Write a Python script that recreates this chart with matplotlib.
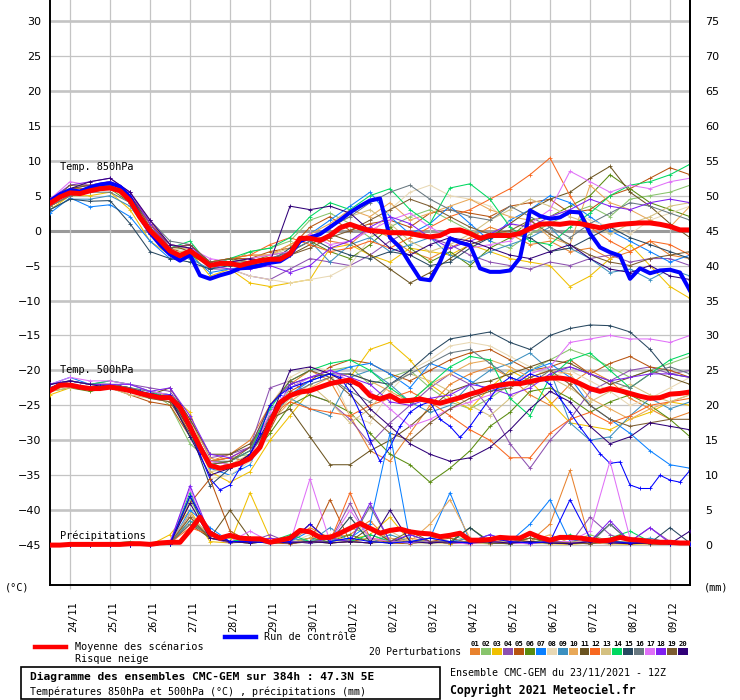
import matplotlib
matplotlib.use("Agg")
import matplotlib.pyplot as plt
import matplotlib.transforms as mtransforms
from matplotlib.lines import Line2D
from matplotlib.patches import Rectangle

# ---------------- data ----------------
HOURS_6 = list(range(0, 385, 6))
HOURS_12 = list(range(0, 385, 12))
DATE_LABELS = ['24/11', '25/11', '26/11', '27/11', '28/11', '29/11', '30/11', '01/12',
               '02/12', '03/12', '04/12', '05/12', '06/12', '07/12', '08/12', '09/12']
DATE_HOURS = [12 + 24 * k for k in range(len(DATE_LABELS))]

MEMBER_NAMES = ['01', '02', '03', '04', '05', '06', '07', '08', '09', '10',
                '11', '12', '13', '14', '15', '16', '17', '18', '19', '20']
MEMBER_COLORS = ['#e8822e', '#88c46c', '#f0c000', '#8c50b0', '#b85410', '#5a8c10', '#0a80ff',
                 '#e8d8b4', '#3c90c0', '#e8a858', '#6b5420', '#f86820', '#d4c080', '#00d860',
                 '#284860', '#687880', '#e070f8', '#8020f0', '#7c5c30', '#300078']

mean850 = [3.9, 4.8, 5.4, 5.3, 5.7, 6.0, 6.1, 5.7, 4.3, 1.9,
           0.0, -1.4, -2.9, -3.6, -2.9, -3.9, -5.0, -4.7, -4.7, -5.0,
           -4.6, -4.3, -4.1, -4.1, -3.3, -1.1, -1.1, -1.4, -0.7, 0.4,
           0.9, 0.4, 0.0, -0.1, -0.3, -0.3, -0.4, -0.7, -0.9, -0.7,
           0.0, 0.1, -0.4, -1.1, -0.7, -0.7, -0.7, -0.4, 0.3, 0.9,
           1.0, 0.9, 1.1, 1.0, 0.7, 0.4, 0.7, 0.9, 1.0, 1.1,
           1.1, 0.9, 0.6, 0.1, 0.1]
ctrl850 = [4.2, 5.2, 5.8, 5.6, 6.2, 6.6, 6.8, 6.3, 4.8, 2.0,
           -0.3, -2.0, -3.4, -4.3, -3.5, -6.4, -6.9, -6.4, -6.0, -5.4,
           -5.3, -5.0, -4.6, -4.4, -3.5, -1.5, -1.0, -0.5, 0.5, 1.5,
           2.6, 3.5, 4.3, 4.6, -1.0, -2.4, -4.7, -6.9, -7.1, -4.5,
           -1.1, -1.7, -2.1, -5.4, -5.9, -5.9, -5.7, -3.9, 2.9, 2.1,
           1.7, 1.9, 2.7, 2.6, -0.4, -2.4, -3.1, -3.6, -6.9, -5.4,
           -6.1, -5.7, -5.6, -6.0, -8.6]
mean500 = [-22.9, -22.1, -22.1, -22.4, -22.6, -22.6, -22.4, -22.6, -22.9, -23.3,
           -23.6, -23.9, -23.9, -25.3, -28.1, -31.0, -33.6, -34.0, -33.7, -33.3,
           -32.6, -31.0, -27.5, -24.6, -23.6, -23.1, -22.9, -22.4, -21.9, -21.6,
           -21.4, -22.1, -23.6, -24.1, -23.6, -24.4, -24.3, -24.1, -24.4, -24.7,
           -24.3, -23.9, -23.4, -23.0, -22.4, -22.1, -21.9, -21.9, -21.6, -21.3,
           -21.1, -21.1, -21.3, -21.9, -22.6, -23.0, -22.6, -22.9, -23.3, -23.7,
           -24.0, -23.9, -23.4, -23.3, -23.1]
ctrl500 = [-22.6, -21.8, -21.9, -22.2, -22.4, -22.3, -22.2, -22.4, -22.7, -23.0,
           -23.3, -23.6, -23.5, -25.0, -28.5, -32.0, -35.5, -37.1, -36.4, -34.0,
           -32.0, -29.0, -25.0, -23.5, -22.5, -22.0, -21.5, -21.0, -20.5, -21.0,
           -23.0, -26.0, -30.0, -33.0, -31.0, -28.0, -26.0, -25.0, -24.5, -27.0,
           -28.0, -29.6, -28.0, -26.0, -24.0, -22.0, -21.0, -21.5, -20.5, -21.0,
           -22.0, -24.0, -26.0, -28.1, -30.0, -31.9, -33.3, -33.1, -36.4, -36.9,
           -36.9, -35.0, -35.7, -36.0, -34.3]
meanpr = [0.0, 0.0, 0.1, 0.1, 0.1, 0.1, 0.1, 0.1, 0.2, 0.2,
          0.1, 0.3, 0.4, 0.4, 2.1, 4.0, 1.7, 1.0, 1.4, 1.0,
          0.9, 0.9, 0.4, 0.7, 1.0, 2.1, 1.9, 1.1, 1.1, 1.7,
          2.4, 3.1, 2.4, 1.7, 2.1, 2.3, 1.9, 1.7, 1.6, 1.2,
          1.4, 1.7, 0.7, 0.7, 0.8, 1.1, 1.0, 1.0, 1.7, 1.1,
          0.7, 1.1, 1.1, 1.0, 0.8, 0.6, 0.7, 1.1, 0.8, 0.7,
          0.5, 0.4, 0.4, 0.3, 0.3]
ctrlpr = [0, 0, 0, 0, 0, 0, 0.2, 7.0, 2.0, 0.5, 0.5, 0.3, 0.5, 3.0, 0.5, 1.0, 0.5,
          0.3, 0.5, 1.0, 0.5, 0.3, 1.0, 0.5, 0.3, 0.5, 6.5, 1.0, 0.5, 0.3, 0.5, 0.2, 0.2]

# perturbations, 12-hourly
t850_01 = [3.5, 5.0, 5.5, 6.0, 5.0, 1.5, -2.5, -2.5, -5.0, -4.0, -3.5, -3.5, -2.0, -0.5, -1.5, -2.0, 0.5, -1.0, -3.0, -4.0, -2.5, -1.0, 0.5, -0.5, -2.0, -1.5, -3.0, -2.5, -4.0, -3.0, -1.5, -3.5, -4.0]
t850_02 = [4.0, 5.5, 6.0, 6.5, 4.5, 0.5, -3.0, -2.0, -5.5, -4.5, -3.0, -2.5, -1.5, 1.5, 2.5, 1.0, -1.0, 0.5, 2.0, 3.0, 1.5, 0.0, -1.5, -2.5, -0.5, 1.0, 2.5, 3.5, 2.0, 4.5, 5.0, 5.5, 6.5]
t850_03 = [3.0, 5.0, 5.0, 5.5, 3.0, -1.5, -3.5, -3.0, -6.5, -5.5, -7.5, -8.0, -7.5, -7.0, -2.5, -2.0, -3.5, -4.5, -2.5, -3.0, -3.5, -2.0, -3.0, -4.0, -4.5, -5.0, -8.0, -6.5, -4.0, -2.0, -5.0, -8.0, -9.7]
t850_04 = [4.5, 6.0, 6.5, 7.0, 5.0, 0.5, -2.0, -2.5, -5.5, -5.5, -6.5, -7.0, -5.5, -4.0, -4.5, -5.0, -3.5, -1.5, 0.0, -1.0, -2.0, -3.5, -4.5, -5.0, -5.5, -4.5, -5.0, -4.0, -3.5, -4.5, -4.0, -4.0, -5.0]
t850_05 = [4.0, 6.0, 6.0, 6.5, 5.0, 1.0, -2.5, -3.5, -4.5, -4.0, -4.0, -3.0, -2.5, 0.5, 2.0, 0.0, 1.0, 1.5, 0.5, 2.5, 3.0, 2.5, 2.0, 3.5, 4.0, 4.5, 2.5, 3.0, 5.0, 6.0, 7.5, 9.0, 8.0]
t850_06 = [3.5, 5.0, 5.5, 6.0, 4.0, -0.5, -3.0, -3.5, -5.0, -5.0, -4.5, -3.5, -3.0, -1.5, -3.0, -4.0, -2.0, 0.5, -2.5, -4.5, -3.0, -5.0, -2.5, -1.0, 1.5, 2.0, 3.5, 5.0, 8.0, 6.0, 4.0, 3.0, 2.0]
t850_07 = [2.5, 4.7, 3.4, 3.7, 2.0, -1.5, -4.0, -3.5, -6.0, -5.5, -5.0, -4.0, -3.0, -0.5, 1.5, 3.5, 5.5, 2.0, -0.5, 1.0, 3.5, 1.0, -1.5, 1.5, 3.0, 5.0, 4.0, 2.0, 0.0, -1.5, -3.0, -4.5, -3.5]
t850_08 = [4.0, 5.5, 5.5, 6.0, 4.5, 0.5, -2.5, -3.0, -5.0, -5.5, -6.5, -7.0, -7.5, -7.0, -6.5, -5.0, -1.0, 3.0, 5.5, 6.5, 5.0, 4.5, 3.5, 1.0, 0.0, 2.0, 3.0, 1.5, 0.5, -0.5, 1.5, 2.5, 3.5]
t850_09 = [3.0, 4.5, 4.5, 5.0, 3.5, -0.5, -3.0, -4.0, -5.5, -4.5, -5.0, -4.5, -3.0, -1.5, -4.5, -2.0, -1.0, -3.0, -2.0, -1.0, -3.5, -4.5, -3.0, -2.0, -1.0, 0.5, -2.5, -4.0, -6.0, -5.5, -7.0, -5.5, -6.5]
t850_10 = [3.5, 5.5, 6.0, 6.0, 5.5, 1.5, -2.0, -2.5, -4.5, -4.0, -3.5, -3.5, -2.0, -0.5, 1.0, 3.0, 2.0, 4.0, 1.5, 2.5, 3.5, 4.5, 3.0, 2.0, 1.5, -1.0, -2.0, 6.5, 4.0, 3.0, 1.5, 0.5, 3.5]
t850_11 = [4.0, 6.0, 6.5, 7.0, 5.0, 1.0, -2.0, -3.0, -5.0, -4.5, -4.0, -4.5, -3.5, -2.0, -0.5, -1.5, -3.5, -5.5, -7.5, -6.0, -4.0, -2.0, -1.0, 1.0, 3.0, 4.5, 5.5, 7.5, 9.2, 5.5, 3.5, 1.0, -1.0]
t850_12 = [3.5, 5.0, 6.0, 6.5, 4.5, 1.0, -2.5, -2.0, -4.5, -4.0, -3.5, -2.0, -1.0, -2.0, -3.0, -2.5, -1.5, -2.5, -1.0, 0.5, 2.0, 3.0, 4.5, 6.0, 8.0, 10.4, 5.0, 0.5, -1.5, -3.0, -1.5, -2.0, -3.5]
t850_13 = [4.5, 5.5, 6.0, 6.5, 5.0, 0.0, -3.0, -3.0, -5.0, -5.0, -4.0, -3.5, -2.5, -1.0, 0.5, 2.0, 3.0, 1.0, -1.5, -3.0, -2.0, -0.5, 1.5, 3.0, 4.5, 3.5, 2.0, 1.0, -0.5, 1.0, 2.0, 3.5, 4.0]
t850_14 = [4.0, 5.5, 6.0, 6.5, 4.5, 0.0, -2.5, -1.5, -5.0, -4.0, -3.0, -2.5, -1.0, 2.0, 4.0, 3.0, 5.0, 6.0, 3.0, 1.0, 6.1, 6.7, 4.5, 0.5, -1.5, -2.0, 0.5, 2.5, 5.0, 6.5, 7.0, 8.0, 9.5]
t850_15 = [3.0, 4.5, 4.2, 4.3, 1.0, -3.0, -4.0, -4.5, -5.5, -5.0, -5.0, -4.5, -2.5, -1.0, -2.5, -3.5, -4.0, -3.0, -3.5, -5.0, -4.5, -2.5, -1.0, -0.5, -1.0, -3.0, -2.5, -1.0, 0.5, -1.0, -2.0, -3.0, -4.0]
t850_16 = [3.5, 5.0, 5.5, 5.5, 4.0, 1.5, -1.5, -2.0, -4.5, -4.5, -4.5, -4.0, -3.0, -1.5, 0.5, 2.0, 4.0, 5.5, 6.5, 4.5, 3.0, 2.0, 1.5, 3.5, 2.0, 0.5, -1.0, 1.0, 2.5, 4.0, 3.5, 2.5, 1.5]
t850_17 = [4.5, 7.0, 6.5, 7.0, 5.5, 1.5, -2.0, -2.5, -4.0, -4.5, -4.0, -3.5, -3.0, -0.5, -2.0, -1.5, 0.0, 1.5, 2.5, 0.5, -1.0, -2.5, -2.0, -1.5, 1.0, 3.0, 8.5, 7.0, 5.5, 6.5, 6.0, 7.0, 7.5]
t850_18 = [4.5, 6.5, 7.0, 7.5, 5.5, 1.0, -2.5, -2.0, -5.0, -5.5, -5.5, -5.0, -6.0, -5.0, -2.5, -1.5, 0.5, 2.0, 1.0, -1.0, -2.5, -1.5, -0.5, 1.0, 0.5, 2.0, 3.0, 4.5, 3.5, 3.0, 4.0, 4.5, 4.0]
t850_19 = [4.0, 6.5, 6.5, 6.5, 5.0, 0.5, -2.5, -2.0, -4.5, -4.0, -4.5, -4.0, -3.5, -2.5, -1.0, 0.0, 1.5, 3.0, 4.5, 3.5, 2.0, 0.5, -0.5, 0.0, 1.5, -0.5, -2.0, -3.5, -4.5, -5.0, -4.0, -3.5, -3.0]
t850_20 = [4.5, 6.0, 7.0, 7.5, 5.5, 1.5, -2.0, -2.5, -5.0, -4.5, -4.0, -4.5, 3.5, 3.0, 3.5, 2.5, 0.0, -2.5, -3.5, -2.0, -1.0, -1.5, -2.5, -3.5, -4.0, -3.0, -2.0, -4.0, -5.5, -6.0, -5.0, -6.5, -7.0]

t500_01 = [-22.5, -21.5, -22.0, -22.5, -23.0, -24.0, -24.0, -29.0, -33.0, -32.0, -30.0, -25.0, -22.0, -20.0, -21.5, -26.5, -31.5, -33.0, -29.0, -25.0, -22.0, -20.5, -19.5, -21.0, -23.5, -25.0, -22.0, -20.0, -21.5, -24.0, -25.5, -27.0, -26.0]
t500_02 = [-23.0, -22.0, -22.5, -22.0, -22.5, -23.0, -25.0, -30.5, -33.0, -32.5, -32.0, -28.0, -22.5, -21.0, -20.0, -19.5, -22.0, -21.0, -20.0, -22.5, -24.5, -25.5, -24.0, -22.0, -20.0, -18.5, -17.0, -18.0, -19.5, -21.0, -20.0, -19.0, -18.0]
t500_03 = [-23.5, -22.5, -22.5, -22.0, -22.5, -23.5, -23.5, -26.0, -34.5, -36.0, -34.5, -30.0, -26.5, -23.0, -22.0, -21.0, -17.0, -16.0, -18.5, -22.0, -24.0, -25.5, -22.5, -20.0, -21.5, -24.5, -27.5, -28.0, -28.5, -27.0, -26.0, -24.5, -25.0]
t500_04 = [-22.0, -21.5, -22.0, -21.5, -22.0, -22.5, -23.0, -27.0, -32.5, -32.0, -31.0, -22.5, -21.5, -23.5, -24.5, -27.0, -30.5, -27.5, -25.0, -22.5, -20.5, -22.0, -25.5, -30.5, -34.0, -30.0, -27.0, -23.0, -21.5, -20.0, -19.5, -20.5, -20.0]
t500_05 = [-22.5, -22.0, -22.5, -22.5, -23.5, -24.5, -25.0, -29.5, -33.0, -32.5, -33.0, -28.5, -23.0, -21.5, -19.5, -18.5, -19.0, -20.5, -21.5, -20.0, -18.5, -17.5, -17.0, -18.5, -20.0, -19.5, -18.5, -20.5, -19.0, -18.0, -19.5, -20.0, -21.0]
t500_06 = [-23.0, -22.5, -23.0, -22.5, -23.0, -23.5, -24.0, -28.0, -33.0, -33.5, -32.5, -29.0, -25.0, -23.5, -24.5, -26.0, -29.0, -32.0, -33.5, -36.0, -34.0, -31.5, -28.0, -26.0, -23.0, -22.5, -24.0, -26.0, -24.5, -23.5, -25.0, -27.0, -29.5]
t500_07 = [-22.0, -21.0, -22.0, -22.0, -22.5, -23.0, -23.5, -27.5, -34.0, -35.0, -33.5, -27.0, -23.5, -21.5, -20.5, -19.5, -19.0, -20.5, -22.5, -19.0, -20.0, -21.5, -23.0, -22.0, -20.0, -19.0, -21.0, -25.0, -27.0, -29.0, -31.5, -33.5, -34.0]
t500_08 = [-22.5, -21.5, -22.0, -22.0, -22.5, -23.0, -23.5, -28.0, -35.5, -35.0, -33.0, -25.0, -21.0, -19.5, -20.0, -26.5, -27.5, -23.0, -20.0, -18.5, -16.5, -16.0, -16.5, -18.0, -19.5, -21.0, -20.0, -21.5, -23.0, -25.0, -24.0, -22.5, -21.0]
t500_09 = [-22.5, -22.0, -22.5, -22.5, -23.0, -23.5, -24.0, -28.5, -33.5, -33.0, -31.5, -25.5, -24.0, -25.5, -26.5, -21.0, -20.0, -22.0, -24.5, -26.0, -25.0, -22.0, -20.0, -19.0, -17.5, -20.0, -27.5, -30.0, -29.5, -26.5, -24.0, -25.5, -24.5]
t500_10 = [-23.0, -22.0, -22.5, -22.0, -22.5, -23.5, -24.0, -27.0, -32.5, -33.5, -32.0, -27.5, -24.5, -22.5, -21.0, -20.5, -21.5, -23.0, -24.5, -22.0, -20.5, -19.0, -18.5, -19.5, -21.0, -20.0, -20.5, -24.0, -25.5, -27.0, -25.5, -24.5, -23.5]
t500_11 = [-22.5, -21.5, -22.0, -22.0, -22.5, -23.5, -22.5, -27.0, -32.0, -32.0, -30.5, -27.0, -25.5, -29.5, -33.5, -33.5, -31.5, -30.0, -28.0, -25.5, -23.0, -22.0, -21.5, -20.5, -19.5, -18.5, -19.0, -20.5, -22.0, -21.0, -20.0, -21.0, -22.0]
t500_12 = [-22.5, -22.0, -22.5, -22.5, -23.0, -23.5, -24.0, -28.5, -33.0, -32.5, -31.0, -26.5, -24.5, -25.5, -26.0, -26.5, -25.0, -24.0, -23.0, -24.5, -26.5, -28.5, -30.0, -32.5, -32.5, -29.0, -27.0, -26.0, -27.5, -26.5, -25.0, -24.5, -24.0]
t500_13 = [-23.0, -22.5, -22.5, -22.5, -23.5, -24.0, -24.5, -28.0, -34.5, -34.0, -32.0, -27.0, -24.0, -22.0, -24.5, -27.5, -25.5, -22.0, -20.5, -21.5, -23.0, -25.0, -26.5, -24.0, -22.0, -21.0, -22.5, -24.5, -23.0, -22.0, -23.5, -24.5, -23.5]
t500_14 = [-22.0, -21.5, -22.0, -21.5, -22.0, -23.0, -24.0, -29.5, -33.5, -33.0, -31.5, -25.5, -21.5, -20.0, -19.0, -18.5, -20.0, -22.5, -24.5, -22.0, -19.5, -18.0, -18.5, -24.0, -26.5, -21.0, -18.5, -17.5, -20.0, -22.5, -20.5, -18.5, -17.5]
t500_15 = [-22.5, -22.0, -22.5, -22.0, -22.5, -23.5, -24.0, -28.5, -36.5, -34.0, -32.0, -27.5, -22.0, -21.0, -20.5, -20.5, -21.5, -22.0, -20.0, -17.5, -15.5, -15.0, -14.5, -16.0, -17.0, -15.0, -14.0, -13.5, -13.6, -14.5, -17.0, -20.5, -21.0]
t500_16 = [-22.5, -21.5, -22.0, -22.0, -22.5, -23.0, -23.5, -28.0, -33.0, -33.0, -31.5, -26.5, -23.5, -22.0, -21.0, -23.0, -24.5, -22.0, -20.5, -19.0, -17.5, -17.0, -19.0, -21.0, -22.0, -20.0, -19.5, -20.5, -21.5, -22.5, -20.5, -19.5, -20.5]
t500_17 = [-22.0, -21.0, -21.5, -21.5, -22.0, -23.0, -23.5, -28.0, -33.0, -33.5, -32.5, -26.0, -22.5, -21.0, -20.0, -21.5, -23.0, -25.5, -28.0, -27.0, -25.5, -24.5, -23.5, -22.0, -20.5, -19.5, -16.0, -15.5, -15.0, -15.5, -15.5, -16.0, -15.0]
t500_18 = [-22.0, -21.5, -22.0, -22.0, -22.0, -23.0, -22.5, -26.5, -32.0, -32.5, -31.0, -25.0, -22.0, -21.0, -20.0, -21.0, -22.0, -24.5, -25.0, -24.0, -23.5, -22.0, -22.5, -23.5, -22.5, -20.5, -19.5, -20.5, -21.5, -21.0, -20.5, -20.5, -21.0]
t500_19 = [-22.5, -22.0, -22.5, -22.5, -23.0, -24.0, -24.5, -29.0, -33.5, -33.0, -31.0, -25.0, -21.5, -20.0, -21.0, -23.5, -26.5, -29.0, -30.0, -27.5, -25.5, -24.0, -23.0, -22.5, -21.0, -20.0, -22.0, -25.0, -27.0, -28.0, -27.5, -27.0, -27.0]
t500_20 = [-22.0, -21.5, -22.0, -22.5, -23.0, -23.5, -24.0, -29.5, -35.0, -34.0, -32.0, -27.0, -20.0, -19.5, -20.5, -22.0, -25.5, -28.0, -30.5, -32.0, -33.0, -32.5, -31.0, -28.5, -25.5, -23.0, -24.5, -28.0, -30.5, -29.5, -27.5, -28.0, -28.5]

pr_01 = [0, 0, 0, 0, 0, 0, 0.3, 3.0, 2.0, 0.5, 1.0, 0.3, 0.5, 2.5, 1.0, 1.5, 3.5, 0.5, 1.0, 0.5, 0.2, 0.5, 0.3, 1.0, 0.5, 3.0, 10.7, 0.5, 0.3, 0.5, 0.3, 0.2, 0.1]
pr_02 = [0, 0, 0, 0, 0, 0, 0.5, 6.5, 1.5, 1.0, 0.5, 0.3, 0.5, 1.0, 0.5, 2.5, 1.5, 0.5, 0.3, 1.0, 1.5, 0.5, 0.3, 0.5, 1.0, 0.5, 0.3, 1.5, 0.5, 0.3, 0.5, 0.2, 0.2]
pr_03 = [0, 0, 0, 0, 0, 0, 1.5, 5.0, 0.5, 0.3, 7.5, 1.0, 0.5, 3.0, 0.5, 0.8, 1.5, 4.0, 0.5, 0.3, 0.2, 0.5, 0.3, 0.3, 0.5, 0.2, 0.1, 0.3, 0.2, 0.1, 0.2, 0.1, 0.1]
pr_04 = [0, 0, 0, 0, 0, 0, 0.2, 4.5, 1.0, 0.3, 0.5, 1.5, 0.3, 0.5, 0.5, 6.0, 0.5, 1.0, 0.3, 0.5, 0.3, 0.2, 0.5, 0.3, 0.5, 0.3, 0.2, 4.0, 1.5, 0.5, 2.5, 0.5, 0.3]
pr_05 = [0, 0, 0, 0, 0, 0, 0.5, 6.0, 9.5, 2.0, 0.5, 0.3, 0.2, 0.5, 6.5, 0.5, 1.0, 0.3, 0.2, 0.5, 1.0, 0.3, 0.2, 0.5, 0.3, 0.2, 0.5, 0.3, 0.2, 0.3, 0.2, 0.1, 0.1]
pr_06 = [0, 0, 0, 0, 0, 0, 0.3, 3.5, 1.0, 0.5, 1.0, 0.5, 0.3, 1.0, 0.5, 1.5, 0.5, 0.3, 0.5, 0.3, 0.5, 2.5, 0.5, 0.3, 1.0, 0.3, 0.2, 0.5, 0.3, 0.2, 0.3, 0.2, 0.2]
pr_07 = [0, 0, 0, 0, 0, 0, 0.2, 5.0, 2.5, 0.5, 0.8, 0.3, 0.5, 2.0, 0.5, 1.0, 3.0, 16.0, 0.5, 1.0, 7.5, 0.5, 1.5, 0.5, 3.0, 6.5, 0.5, 1.0, 0.5, 0.5, 0.3, 0.2, 0.2]
pr_08 = [0, 0, 0, 0, 0, 0, 0.3, 4.0, 1.0, 0.5, 0.3, 0.5, 0.3, 1.5, 0.5, 4.0, 1.0, 0.5, 0.3, 0.2, 0.3, 0.5, 0.3, 0.2, 0.5, 0.3, 0.2, 0.3, 0.2, 0.3, 0.2, 0.1, 0.1]
pr_09 = [0, 0, 0, 0, 0, 0, 0.2, 3.5, 1.5, 0.5, 0.3, 0.5, 1.0, 0.5, 2.5, 0.5, 0.3, 1.5, 0.5, 0.3, 0.5, 1.0, 0.5, 0.3, 1.5, 0.5, 0.3, 0.5, 0.3, 0.5, 1.0, 0.3, 0.2]
pr_10 = [0, 0, 0, 0, 0, 0, 0.3, 4.0, 1.5, 0.5, 0.5, 1.0, 0.3, 1.0, 1.5, 0.5, 0.3, 1.0, 0.5, 3.0, 6.5, 1.0, 0.5, 0.3, 0.5, 1.5, 0.3, 0.5, 0.3, 0.5, 0.3, 0.2, 0.2]
pr_11 = [0, 0, 0, 0, 0, 0, 0.2, 3.0, 1.0, 5.0, 1.0, 0.5, 0.3, 0.5, 0.3, 0.5, 2.5, 0.5, 0.3, 0.5, 0.3, 0.2, 0.5, 0.3, 0.2, 0.5, 0.3, 0.2, 0.5, 0.3, 0.2, 0.1, 0.1]
pr_12 = [0, 0, 0, 0, 0, 0, 0.3, 2.5, 1.5, 0.5, 0.3, 1.0, 0.5, 3.0, 0.5, 7.5, 1.0, 0.5, 0.3, 0.5, 0.3, 0.2, 0.5, 0.3, 0.5, 0.3, 0.2, 0.5, 0.3, 0.2, 0.3, 0.5, 0.3]
pr_13 = [0, 0, 0, 0, 0, 0, 0.5, 4.5, 1.0, 0.5, 0.3, 0.5, 0.5, 0.3, 1.0, 0.5, 0.3, 2.0, 0.5, 0.3, 0.5, 0.3, 0.2, 0.5, 0.3, 0.2, 0.5, 0.3, 0.2, 0.3, 0.2, 0.1, 0.1]
pr_14 = [0, 0, 0, 0.2, 0.5, 0, 0.3, 7.5, 1.5, 0.5, 1.0, 0.5, 1.5, 0.5, 1.0, 0.5, 1.5, 0.5, 0.3, 0.5, 0.3, 0.5, 0.3, 0.2, 0.5, 0.3, 1.5, 0.5, 1.0, 2.0, 0.5, 0.3, 0.2]
pr_15 = [0, 0, 0, 0, 0, 0, 0.2, 7.0, 1.0, 0.5, 0.5, 0.3, 0.5, 0.3, 0.5, 4.0, 0.5, 0.3, 1.5, 0.5, 0.3, 2.5, 0.3, 0.2, 0.5, 0.3, 0.2, 0.5, 3.0, 0.5, 0.3, 2.5, 0.3]
pr_16 = [0, 0, 0, 0, 0, 0, 0.3, 3.0, 1.5, 0.5, 0.3, 0.5, 0.3, 0.5, 1.0, 0.5, 5.5, 0.5, 0.3, 1.0, 0.5, 0.3, 0.5, 0.3, 0.2, 0.5, 0.3, 0.2, 3.0, 0.5, 0.3, 0.2, 0.1]
pr_17 = [0, 0, 0, 0, 0, 0, 0.5, 8.0, 1.0, 0.5, 2.0, 0.5, 0.3, 9.5, 0.5, 5.0, 1.0, 0.5, 0.3, 0.5, 0.3, 0.2, 0.5, 0.3, 0.2, 0.5, 0.5, 2.0, 12.0, 1.0, 0.3, 0.2, 0.1]
pr_18 = [0, 0, 0, 0, 0, 0, 0.3, 8.5, 1.5, 0.5, 0.5, 1.0, 0.5, 0.3, 1.0, 0.5, 6.0, 0.5, 1.5, 0.5, 0.3, 0.5, 1.5, 0.5, 0.3, 0.5, 0.3, 0.5, 3.5, 0.5, 2.5, 0.3, 0.2]
pr_19 = [0, 0, 0, 0, 0, 0, 0.3, 4.0, 1.0, 0.5, 0.3, 0.5, 0.3, 0.5, 0.3, 0.5, 0.3, 0.5, 2.0, 0.5, 0.3, 0.5, 0.3, 0.2, 1.0, 0.5, 0.3, 0.2, 0.5, 0.3, 0.2, 0.1, 0.1]
pr_20 = [0, 0, 0, 0, 0, 0, 0.2, 6.0, 1.0, 0.5, 0.3, 0.5, 0.3, 0.5, 0.3, 0.5, 0.3, 5.0, 0.5, 0.3, 0.5, 0.3, 0.5, 0.3, 0.5, 0.3, 0.2, 0.5, 0.3, 0.2, 0.3, 0.2, 2.0]

T850 = [t850_01, t850_02, t850_03, t850_04, t850_05, t850_06, t850_07, t850_08, t850_09, t850_10,
        t850_11, t850_12, t850_13, t850_14, t850_15, t850_16, t850_17, t850_18, t850_19, t850_20]
T500 = [t500_01, t500_02, t500_03, t500_04, t500_05, t500_06, t500_07, t500_08, t500_09, t500_10,
        t500_11, t500_12, t500_13, t500_14, t500_15, t500_16, t500_17, t500_18, t500_19, t500_20]
PR = [pr_01, pr_02, pr_03, pr_04, pr_05, pr_06, pr_07, pr_08, pr_09, pr_10,
      pr_11, pr_12, pr_13, pr_14, pr_15, pr_16, pr_17, pr_18, pr_19, pr_20]

# ---------------- figure ----------------
W, H = 740, 700
MONO = 'DejaVu Sans Mono'
fig = plt.figure(figsize=(W / 100, H / 100), dpi=100)


def fx(x):
    return x / W


def fy(y):
    return 1 - y / H


ax = fig.add_axes([fx(50), fy(585), 640 / W, 585 / H])
ax.set_xlim(0, 384)
ax.set_ylim(-50.71, 33.0)

# grid
for v in range(-45, 31, 5):
    if v == 0:
        ax.axhline(v, color='#9a9a9a', lw=2.2, zorder=1)
    elif v % 10 == 0:
        ax.axhline(v, color='#c4c4c4', lw=1.9, zorder=1)
    else:
        ax.axhline(v, color='#c4c4c4', lw=0.9, zorder=1)
for h in DATE_HOURS:
    ax.axvline(h, color='#c4c4c4', lw=0.9, zorder=1)

ax.spines['top'].set_visible(False)
for sp in ['left', 'right', 'bottom']:
    ax.spines[sp].set_linewidth(1.4)
    ax.spines[sp].set_color('black')

ax.set_xticks(DATE_HOURS)
ax.set_xticklabels(DATE_LABELS, rotation=90, fontfamily=MONO, fontsize=7.4)
ax.tick_params(axis='x', length=3, color='#c4c4c4', width=0.9, pad=9)
shift = mtransforms.ScaledTranslation(3 / 100, 0, fig.dpi_scale_trans)
for lab in ax.get_xticklabels():
    lab.set_transform(lab.get_transform() + shift)
ax.set_yticks(list(range(-45, 31, 5)))
ax.tick_params(axis='y', length=0, pad=6, labelsize=8)

mk = dict(lw=0.75, marker='+', ms=2.6, mew=0.6)
for vals, col in zip(T850, MEMBER_COLORS):
    ax.plot(HOURS_12[:len(vals)], vals, color=col, zorder=3, **mk)
for vals, col in zip(T500, MEMBER_COLORS):
    ax.plot(HOURS_12[:len(vals)], vals, color=col, zorder=3, **mk)
ax.plot(HOURS_6, ctrl500, color='#0000ff', zorder=4, **mk)
ax.plot(HOURS_6, ctrl850, color='#0000ff', lw=2.9, zorder=4)
ax.plot(HOURS_6, mean850, color='#ff0000', lw=3.6, zorder=5)
ax.plot(HOURS_6, mean500, color='#ff0000', lw=3.6, zorder=5)

ax.text(6, 9.1, 'Temp. 850hPa', fontfamily=MONO, fontsize=7.4, va='center', zorder=6)
ax.text(6, -19.9, 'Temp. 500hPa', fontfamily=MONO, fontsize=7.4, va='center', zorder=6)
ax.text(6, -43.6, 'Précipitations', fontfamily=MONO, fontsize=7.4, va='center', zorder=6)

# precipitation axis (mm)
ax2 = ax.twinx()
ax2.set_ylim(-50.71 + 45, 33.0 + 45)
ax2.set_yticks(list(range(0, 76, 5)))
ax2.tick_params(axis='y', length=0, pad=11, labelsize=8)
for sp in ['top', 'left', 'bottom']:
    ax2.spines[sp].set_visible(False)
ax2.spines['right'].set_linewidth(1.4)
for vals, col in zip(PR, MEMBER_COLORS):
    ax2.plot(HOURS_12[:len(vals)], vals, color=col, zorder=3, **mk)
ax2.plot(HOURS_12[:len(ctrlpr)], ctrlpr, color='#0000ff', zorder=4, **mk)
ax2.plot(HOURS_6, meanpr, color='#ff0000', lw=3.6, zorder=5)

# axis unit labels
fig.text(fx(5), fy(587), '(°C)', fontfamily=MONO, fontsize=7.4, va='center', ha='left')
fig.text(fx(704), fy(587), '(mm)', fontfamily=MONO, fontsize=7.4, va='center', ha='left')

# legend
fig.add_artist(Line2D([fx(35), fx(66)], [fy(647), fy(647)], color='#ff0000', lw=3.2))
fig.text(fx(75), fy(647), 'Moyenne des scénarios', fontfamily=MONO, fontsize=7.3, va='center')
fig.text(fx(75), fy(659), 'Risque neige', fontfamily=MONO, fontsize=7.3, va='center')
fig.add_artist(Line2D([fx(225), fx(256)], [fy(637), fy(637)], color='#0000ff', lw=3.2))
fig.text(fx(264), fy(637), 'Run de contrôle', fontfamily=MONO, fontsize=7.3, va='center')
fig.text(fx(369), fy(652), '20 Perturbations', fontfamily=MONO, fontsize=6.9, va='center')
for k, (name, col) in enumerate(zip(MEMBER_NAMES, MEMBER_COLORS)):
    x0 = 470 + 10.95 * k
    fig.add_artist(Rectangle((fx(x0), fy(655)), 9.9 / W, 7 / H, facecolor=col,
                             edgecolor='none', transform=fig.transFigure))
    fig.text(fx(x0 + 5), fy(644), name, fontfamily=MONO, fontsize=5.2,
             fontweight='bold', ha='center', va='center')

# title box
fig.add_artist(Rectangle((fx(21), fy(699)), 419 / W, 32 / H, fill=False,
                         edgecolor='black', lw=1.2, transform=fig.transFigure))
fig.text(fx(30), fy(677), 'Diagramme des ensembles CMC-GEM sur 384h : 47.3N 5E',
         fontfamily=MONO, fontsize=8.1, fontweight='bold', va='center')
fig.text(fx(30), fy(692), 'Températures 850hPa et 500hPa (°C) , précipitations (mm)',
         fontfamily=MONO, fontsize=7.2, va='center')
fig.text(fx(450), fy(673), 'Ensemble CMC-GEM du 23/11/2021 - 12Z',
         fontfamily=MONO, fontsize=7.2, va='center')
fig.text(fx(450), fy(690), 'Copyright 2021 Meteociel.fr',
         fontfamily=MONO, fontsize=8.3, fontweight='bold', va='center')

fig.savefig('out.png', dpi=100)
